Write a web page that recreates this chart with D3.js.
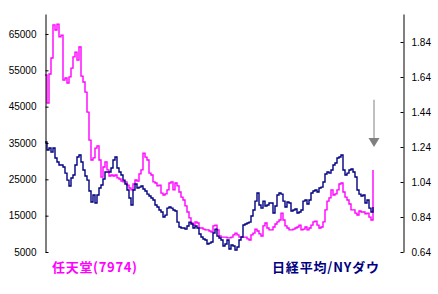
<!DOCTYPE html>
<html lang="ja">
<head>
<meta charset="utf-8">
<title>任天堂 vs 日経平均/NYダウ</title>
<script src="https://d3js.org/d3.v7.min.js"></script>
<style>
  body { margin: 0; background: #fff; }
  .axis path, .axis line { stroke: #000; fill: none; }
  .axis text { font-family: "Liberation Sans", Arial, sans-serif; font-size: 10px; fill: #000; }
  .lbl { font-family: "Noto Sans CJK JP", sans-serif; font-weight: bold; font-size: 13px; }
</style>
</head>
<body>
<div id="chart"></div>
<script>
// 任天堂(7974) price, left axis, evenly spaced samples
var nintendo = [
  53700, 46000, 54000, 58400, 67500, 66100, 67700, 64200, 64700, 52300,
  52900, 51500, 53200, 55600, 58700, 60000, 57800, 61400, 53400, 51800,
  49000, 43500, 35800, 30300, 30900, 33600, 34200, 30300, 25600, 28400,
  29800, 27600, 25900, 26200, 25900, 26200, 25400, 25100, 24500, 24300,
  24300, 23400, 22600, 22100, 23700, 24800, 24500, 26500, 27600, 32200,
  31100, 30300, 26700, 26200, 24300, 24000, 23200, 23400, 21200, 20700,
  21000, 22100, 24000, 24300, 22100, 24000, 23200, 21500, 20100, 19300,
  17700, 16000, 14400, 13000, 12400, 13300, 13000, 11600, 11600, 11300,
  11100, 11100, 10800, 10500, 12200, 12400, 11100, 9400, 9100, 9100,
  9100, 8900, 8900, 9100, 9700, 10200, 9700, 9100, 9100, 9100,
  9100, 8600, 8300, 9700, 10200, 11300, 10800, 10000, 9400, 12200,
  13000, 11600, 11100, 11100, 11900, 12700, 13300, 13800, 15700, 13800,
  12200, 11600, 11100, 11100, 11300, 11600, 11900, 12400, 11100, 11300,
  11900, 11100, 11600, 12400, 13300, 13500, 12400, 11600, 11900, 13300,
  16600, 19000, 19900, 22100, 20700, 21000, 22100, 23700, 24000, 21500,
  20100, 19300, 18200, 16600, 16600, 15700, 15200, 16300, 16000, 16000,
  15500, 15700, 14600, 13800, 27600
];

// 日経平均/NYダウ ratio, right axis, same samples
var ratio = [
  1.269, 1.223, 1.234, 1.211, 1.234, 1.177, 1.154, 1.137, 1.137, 1.126,
  1.091, 1.051, 1.017, 1.063, 1.080, 1.137, 1.183, 1.194, 1.154, 1.109,
  1.074, 1.051, 0.989, 0.926, 0.966, 0.920, 0.966, 1.006, 1.023, 1.057,
  1.097, 1.097, 1.097, 1.120, 1.166, 1.183, 1.120, 1.097, 1.080, 1.051,
  1.029, 0.994, 0.949, 0.909, 0.994, 1.029, 1.006, 1.011, 1.017, 1.000,
  0.989, 0.971, 0.960, 0.949, 0.937, 0.909, 0.897, 0.880, 0.869, 0.840,
  0.851, 0.891, 0.897, 0.891, 0.880, 0.874, 0.811, 0.783, 0.777, 0.777,
  0.771, 0.789, 0.811, 0.800, 0.777, 0.789, 0.777, 0.743, 0.726, 0.714,
  0.709, 0.686, 0.691, 0.697, 0.749, 0.771, 0.731, 0.720, 0.709, 0.674,
  0.686, 0.709, 0.657, 0.680, 0.674, 0.651, 0.669, 0.709, 0.726, 0.794,
  0.800, 0.806, 0.811, 0.846, 0.880, 0.931, 0.977, 0.909, 0.891, 0.931,
  0.903, 0.909, 0.920, 0.920, 0.863, 0.903, 0.966, 0.977, 0.971, 0.931,
  0.897, 0.926, 0.920, 0.874, 0.880, 0.886, 0.863, 0.869, 0.880, 0.931,
  0.937, 0.914, 0.937, 0.977, 0.989, 0.994, 0.983, 1.006, 1.011, 1.040,
  1.086, 1.097, 1.091, 1.109, 1.137, 1.149, 1.177, 1.183, 1.194, 1.109,
  1.080, 1.091, 1.109, 1.114, 1.097, 1.069, 0.994, 0.971, 0.960, 0.966,
  0.920, 0.937, 0.891, 0.869, 0.897
];

var leftTicks = [5000, 15000, 25000, 35000, 45000, 55000, 65000];
var rightTicks = [0.64, 0.84, 1.04, 1.24, 1.44, 1.64, 1.84];
var leftLabel = "任天堂(7974)";
var rightLabel = "日経平均/NYダウ";
// arrow annotation in right-axis units
var arrowFrom = 1.51, arrowTo = 1.24;

var w = 438, h = 294;
var svg = d3.select("#chart").append("svg").attr("width", w).attr("height", h);

var x = d3.scaleLinear().domain([0, nintendo.length - 1]).range([45, 373]);
var yL = d3.scaleLinear().domain([5000, 70500]).range([252, 14]);
var yR = d3.scaleLinear().domain([0.64, 2.0]).range([252, 14]);

// lines
var lineL = d3.line().x(function(d, i) { return x(i); }).y(function(d) { return yL(d); }).curve(d3.curveStepAfter);
var lineR = d3.line().x(function(d, i) { return x(i); }).y(function(d) { return yR(d); }).curve(d3.curveStepAfter);

svg.append("path").datum(nintendo).attr("d", lineL)
  .attr("fill", "none").attr("stroke", "#ff00ff").attr("stroke-width", 1.4);
svg.append("path").datum(ratio).attr("d", lineR)
  .attr("fill", "none").attr("stroke", "#000080").attr("stroke-width", 1.4);

// axes
svg.append("g").attr("class", "axis").attr("transform", "translate(45.5,0)")
  .call(d3.axisLeft(yL).tickValues(leftTicks).tickSize(-3).tickSizeOuter(0).tickPadding(9).tickFormat(d3.format("d")));
svg.append("g").attr("class", "axis").attr("transform", "translate(403.5,0)")
  .call(d3.axisRight(yR).tickValues(rightTicks).tickSize(-3).tickSizeOuter(0).tickPadding(8).tickFormat(d3.format(".2f")));

// arrow
var ax = x(nintendo.length - 1) + 1;
svg.append("line").attr("x1", ax).attr("x2", ax)
  .attr("y1", yR(arrowFrom)).attr("y2", yR(arrowTo) - 8)
  .attr("stroke", "#808080").attr("stroke-width", 1);
svg.append("path")
  .attr("d", "M" + (ax - 5.5) + "," + (yR(arrowTo) - 9) + "L" + (ax + 5.5) + "," + (yR(arrowTo) - 9) + "L" + ax + "," + yR(arrowTo) + "Z")
  .attr("fill", "#808080");

// series labels
svg.append("text").attr("class", "lbl").attr("x", 52).attr("y", 272)
  .attr("fill", "#ff00ff").attr("textLength", 85).attr("lengthAdjust", "spacing").text(leftLabel);
svg.append("text").attr("class", "lbl").attr("x", 272).attr("y", 272)
  .attr("fill", "#000080").attr("textLength", 107).attr("lengthAdjust", "spacing").text(rightLabel);
</script>
</body>
</html>
